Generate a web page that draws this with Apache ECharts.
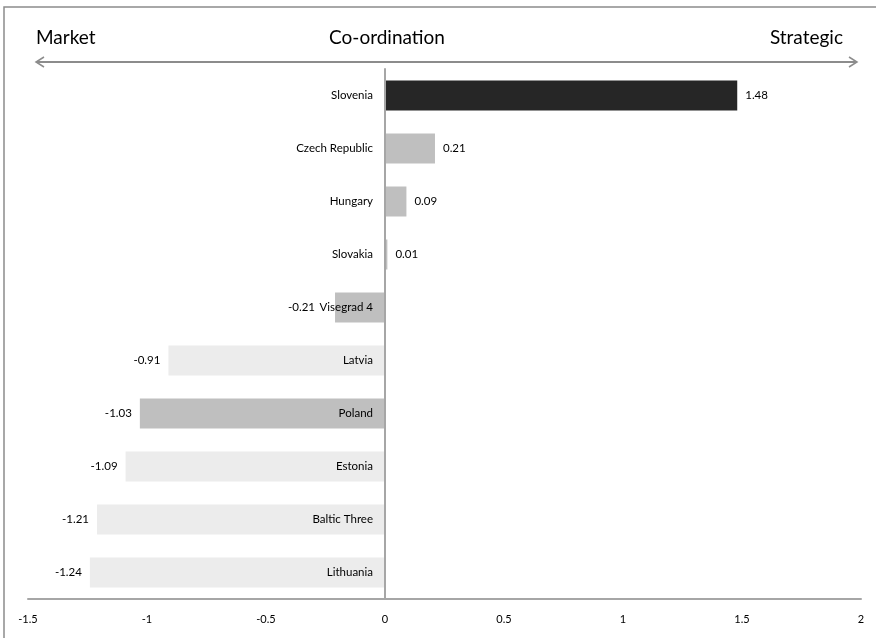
<!DOCTYPE html>
<html>
<head>
<meta charset="utf-8">
<script src="https://cdn.jsdelivr.net/npm/echarts@6/dist/echarts.min.js"></script>
<style>
html,body{margin:0;padding:0;background:#fff;}
#chart{width:876px;height:638px;}
</style>
</head>
<body>
<div id="chart"></div>
<script>
var categories = ['Slovenia', 'Czech Republic', 'Hungary', 'Slovakia', 'Visegrad 4', 'Latvia', 'Poland', 'Estonia', 'Baltic Three', 'Lithuania'];
var values = [1.48, 0.21, 0.09, 0.01, -0.21, -0.91, -1.03, -1.09, -1.21, -1.24];
var xTickLabels = ['-1.5', '-1', '-0.5', '0', '0.5', '1', '1.5', '2'];
var headerLeft = 'Market';
var headerCenter = 'Co-ordination';
var headerRight = 'Strategic';

var barColors = ['#262626', '#bfbfbf', '#bfbfbf', '#bfbfbf', '#bfbfbf', '#ececec', '#bfbfbf', '#ececec', '#ececec', '#ececec'];
var FONT = 'Lato, "Liberation Sans", sans-serif';

var XMIN = -1.5, XMAX = 2;
var GRID_LEFT = 28, GRID_RIGHT = 15;
var plotW = 876 - GRID_LEFT - GRID_RIGHT;
var zeroOffset = plotW * (0 - XMIN) / (XMAX - XMIN);

var chart = echarts.init(document.getElementById('chart'));

var data = values.map(function (v, i) {
  var neg = v < 0;
  return {
    value: v,
    itemStyle: { color: barColors[i] },
    label: {
      position: neg ? 'left' : 'right',
      distance: (categories[i] === 'Visegrad 4') ? 20 : 8
    }
  };
});

var gray = '#8c8c8c';
var arrowY = 62;

chart.setOption({
  animation: false,
  grid: { left: GRID_LEFT, right: GRID_RIGHT, top: 69, bottom: 39, containLabel: false, outerBoundsMode: 'none' },
  xAxis: {
    type: 'value',
    min: XMIN,
    max: XMAX,
    interval: 0.5,
    position: 'bottom',
    axisLine: { show: true, onZero: false, lineStyle: { color: '#a6a6a6', width: 2 } },
    axisTick: { show: false },
    splitLine: { show: false },
    axisLabel: {
      margin: 15,
      fontFamily: FONT,
      fontSize: 11,
      color: '#000',
      showMinLabel: true,
      showMaxLabel: true,
      formatter: function (v) {
        var idx = Math.round((v - XMIN) / 0.5);
        return xTickLabels[idx] !== undefined ? xTickLabels[idx] : '';
      }
    }
  },
  yAxis: {
    type: 'category',
    data: categories,
    inverse: true,
    position: 'left',
    offset: -zeroOffset,
    axisLine: { show: true, onZero: false, lineStyle: { color: '#a6a6a6', width: 2 } },
    axisTick: { show: false },
    splitLine: { show: false },
    axisLabel: { margin: 12, fontFamily: FONT, fontSize: 11.5, color: '#000' },
    z: 5
  },
  series: [{
    type: 'bar',
    data: data,
    barWidth: 30,
    z: 1,
    label: {
      show: true,
      fontFamily: FONT,
      fontSize: 11.5,
      color: '#000',
      formatter: function (p) { return p.value.toFixed(2); }
    }
  }],
  graphic: [
    {
      type: 'rect',
      shape: { x: 4, y: 7, width: 900, height: 700 },
      style: { fill: 'none', stroke: '#8c8c8c', lineWidth: 1.5 },
      silent: true
    },
    {
      type: 'line',
      shape: { x1: 36, y1: arrowY, x2: 857, y2: arrowY },
      style: { stroke: gray, lineWidth: 2 }
    },
    {
      type: 'polyline',
      shape: { points: [[44, arrowY - 5], [36, arrowY], [44, arrowY + 5]] },
      style: { stroke: gray, lineWidth: 1.5, fill: 'none' }
    },
    {
      type: 'polyline',
      shape: { points: [[849, arrowY - 5], [857, arrowY], [849, arrowY + 5]] },
      style: { stroke: gray, lineWidth: 1.5, fill: 'none' }
    },
    {
      type: 'text',
      x: 36, y: 38,
      style: { text: headerLeft, font: '19px ' + FONT, fill: '#000', align: 'left', verticalAlign: 'middle' }
    },
    {
      type: 'text',
      x: 387, y: 38,
      style: { text: headerCenter, font: '19px ' + FONT, fill: '#000', align: 'center', verticalAlign: 'middle' }
    },
    {
      type: 'text',
      x: 843, y: 38,
      style: { text: headerRight, font: '19px ' + FONT, fill: '#000', align: 'right', verticalAlign: 'middle' }
    }
  ]
});
</script>
</body>
</html>
